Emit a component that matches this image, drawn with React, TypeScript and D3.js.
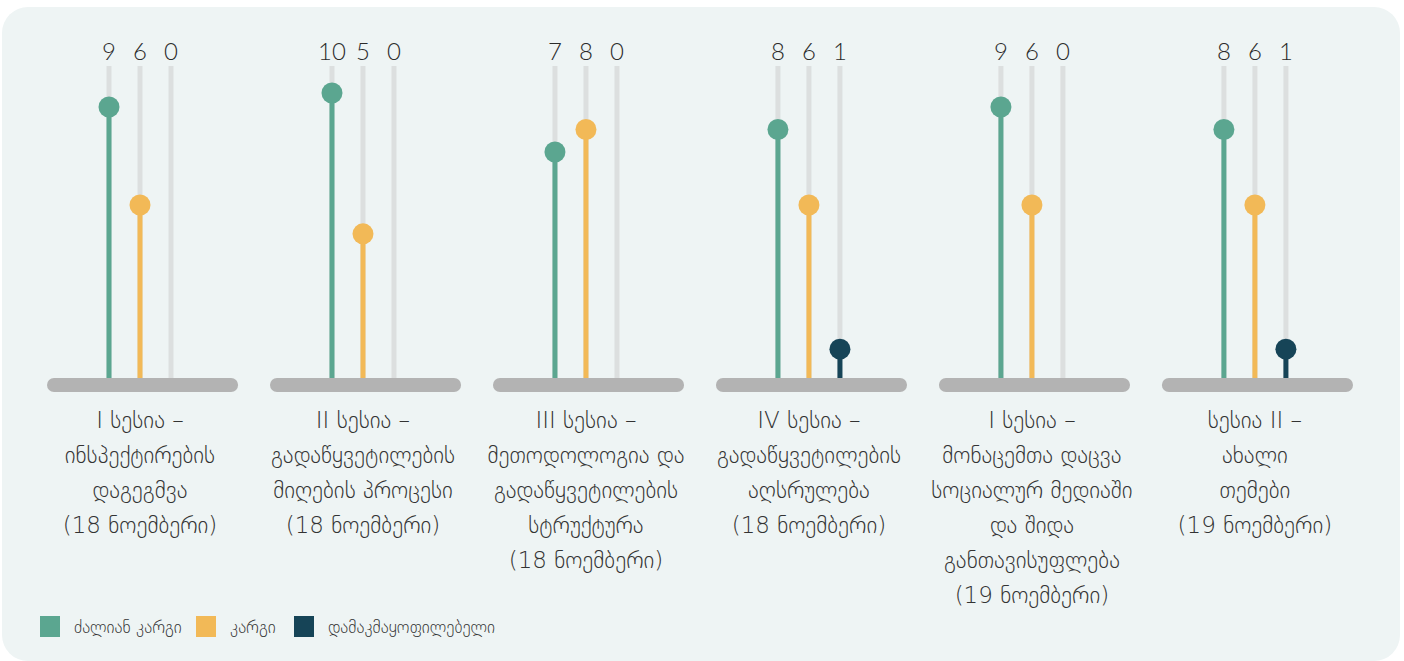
import * as d3 from 'd3';
import { useEffect, useRef } from 'react';

const sessions = [
  ['I სესია –', 'ინსპექტირების', 'დაგეგმვა', '(18 ნოემბერი)'],
  ['II სესია –', 'გადაწყვეტილების', 'მიღების პროცესი', '(18 ნოემბერი)'],
  ['III სესია –', 'მეთოდოლოგია და', 'გადაწყვეტილების', 'სტრუქტურა', '(18 ნოემბერი)'],
  ['IV სესია –', 'გადაწყვეტილების', 'აღსრულება', '(18 ნოემბერი)'],
  ['I სესია –', 'მონაცემთა დაცვა', 'სოციალურ მედიაში', 'და შიდა', 'განთავისუფლება', '(19 ნოემბერი)'],
  ['სესია II –', 'ახალი', 'თემები', '(19 ნოემბერი)'],
];

const ratingKeys = ['veryGood', 'good', 'satisfactory'];
const ratingNames = ['ძალიან კარგი', 'კარგი', 'დამაკმაყოფილებელი'];
const ratingColors = ['#5ba690', '#f2b957', '#164457'];

const veryGood = [9, 10, 7, 8, 9, 8];
const good = [6, 5, 8, 6, 6, 6];
const satisfactory = [0, 0, 0, 1, 0, 1];

const W = 1404;
const H = 661;
const NUM_FONT = "Lato, 'DejaVu Sans', sans-serif";
const GEO_FONT = "'DejaVu Sans', sans-serif";

const App = () => {
  const ref = useRef(null);

  useEffect(() => {
    const svg = d3.select(ref.current);
    svg.selectAll('*').remove();

    const baseY = 378;
    const trackTop = 66;

    svg
      .append('rect')
      .attr('x', 2)
      .attr('y', 7)
      .attr('width', W - 6)
      .attr('height', H - 7)
      .attr('rx', 26)
      .attr('fill', '#eef4f4');

    const x = d3
      .scaleBand()
      .domain(d3.range(sessions.length))
      .range([47, 1353])
      .paddingInner(0.143)
      .paddingOuter(0);

    const xi = d3.scalePoint().domain(ratingKeys).range([62, 124]);

    // the infographic's value axis is not strictly linear
    const y = d3
      .scaleLinear()
      .domain([0, 6, 7, 9, 10])
      .range([baseY, 205, 152, 107, 93]);

    const rows = sessions.map((s, i) => ({
      i,
      lines: s,
      values: [veryGood[i], good[i], satisfactory[i]],
    }));

    const g = svg
      .selectAll('g.session')
      .data(rows)
      .join('g')
      .attr('class', 'session')
      .attr('transform', (d) => `translate(${x(d.i)},0)`);

    // grey tracks
    g.selectAll('line.track')
      .data(ratingKeys)
      .join('line')
      .attr('class', 'track')
      .attr('x1', (k) => xi(k))
      .attr('x2', (k) => xi(k))
      .attr('y1', trackTop)
      .attr('y2', baseY)
      .attr('stroke', '#dcdfdf')
      .attr('stroke-width', 5);

    // value labels
    g.selectAll('text.value')
      .data((d) => d.values.map((v, j) => ({ v, k: ratingKeys[j] })))
      .join('text')
      .attr('class', 'value')
      .attr('x', (d) => xi(d.k))
      .attr('y', 60)
      .attr('text-anchor', 'middle')
      .attr('font-family', NUM_FONT)
      .attr('font-weight', 300)
      .attr('font-size', 24)
      .attr('fill', '#2b2b2b')
      .text((d) => d.v);

    const pops = g
      .selectAll('g.pop')
      .data((d) => d.values.map((v, j) => ({ v, j })).filter((p) => p.v > 0))
      .join('g')
      .attr('class', 'pop');

    pops
      .append('line')
      .attr('x1', (d) => xi(ratingKeys[d.j]))
      .attr('x2', (d) => xi(ratingKeys[d.j]))
      .attr('y1', (d) => y(d.v))
      .attr('y2', baseY + 5)
      .attr('stroke', (d) => ratingColors[d.j])
      .attr('stroke-width', 5);

    pops
      .append('circle')
      .attr('cx', (d) => xi(ratingKeys[d.j]))
      .attr('cy', (d) => y(d.v))
      .attr('r', 10.5)
      .attr('fill', (d) => ratingColors[d.j]);

    // base bars
    g.append('rect')
      .attr('x', 0)
      .attr('y', baseY)
      .attr('width', x.bandwidth())
      .attr('height', 14)
      .attr('rx', 7)
      .attr('fill', '#b3b3b3');

    // session labels
    g.append('text')
      .attr('text-anchor', 'middle')
      .attr('font-family', GEO_FONT)
      .attr('font-weight', 200)
      .attr('font-size', 23)
      .attr('fill', '#333')
      .selectAll('tspan')
      .data((d) => d.lines)
      .join('tspan')
      .attr('x', xi('good'))
      .attr('y', (_, n) => 428 + n * 35)
      .text((l) => l);

    // legend
    const legendX = [40, 196, 294];
    const lg = svg
      .selectAll('g.legend')
      .data(ratingNames)
      .join('g')
      .attr('class', 'legend')
      .attr('transform', (_, i) => `translate(${legendX[i]},616)`);

    lg.append('rect')
      .attr('width', 20)
      .attr('height', 21)
      .attr('fill', (_, i) => ratingColors[i]);

    lg.append('text')
      .attr('x', 34)
      .attr('y', 17)
      .attr('font-family', GEO_FONT)
      .attr('font-weight', 200)
      .attr('font-size', 17)
      .attr('fill', '#333')
      .text((d) => d);
  }, []);

  return (
    <div style={{ position: 'absolute', left: 0, top: 0 }}>
      <svg ref={ref} width={W} height={H} style={{ display: 'block' }} />
    </div>
  );
};

export default App;
